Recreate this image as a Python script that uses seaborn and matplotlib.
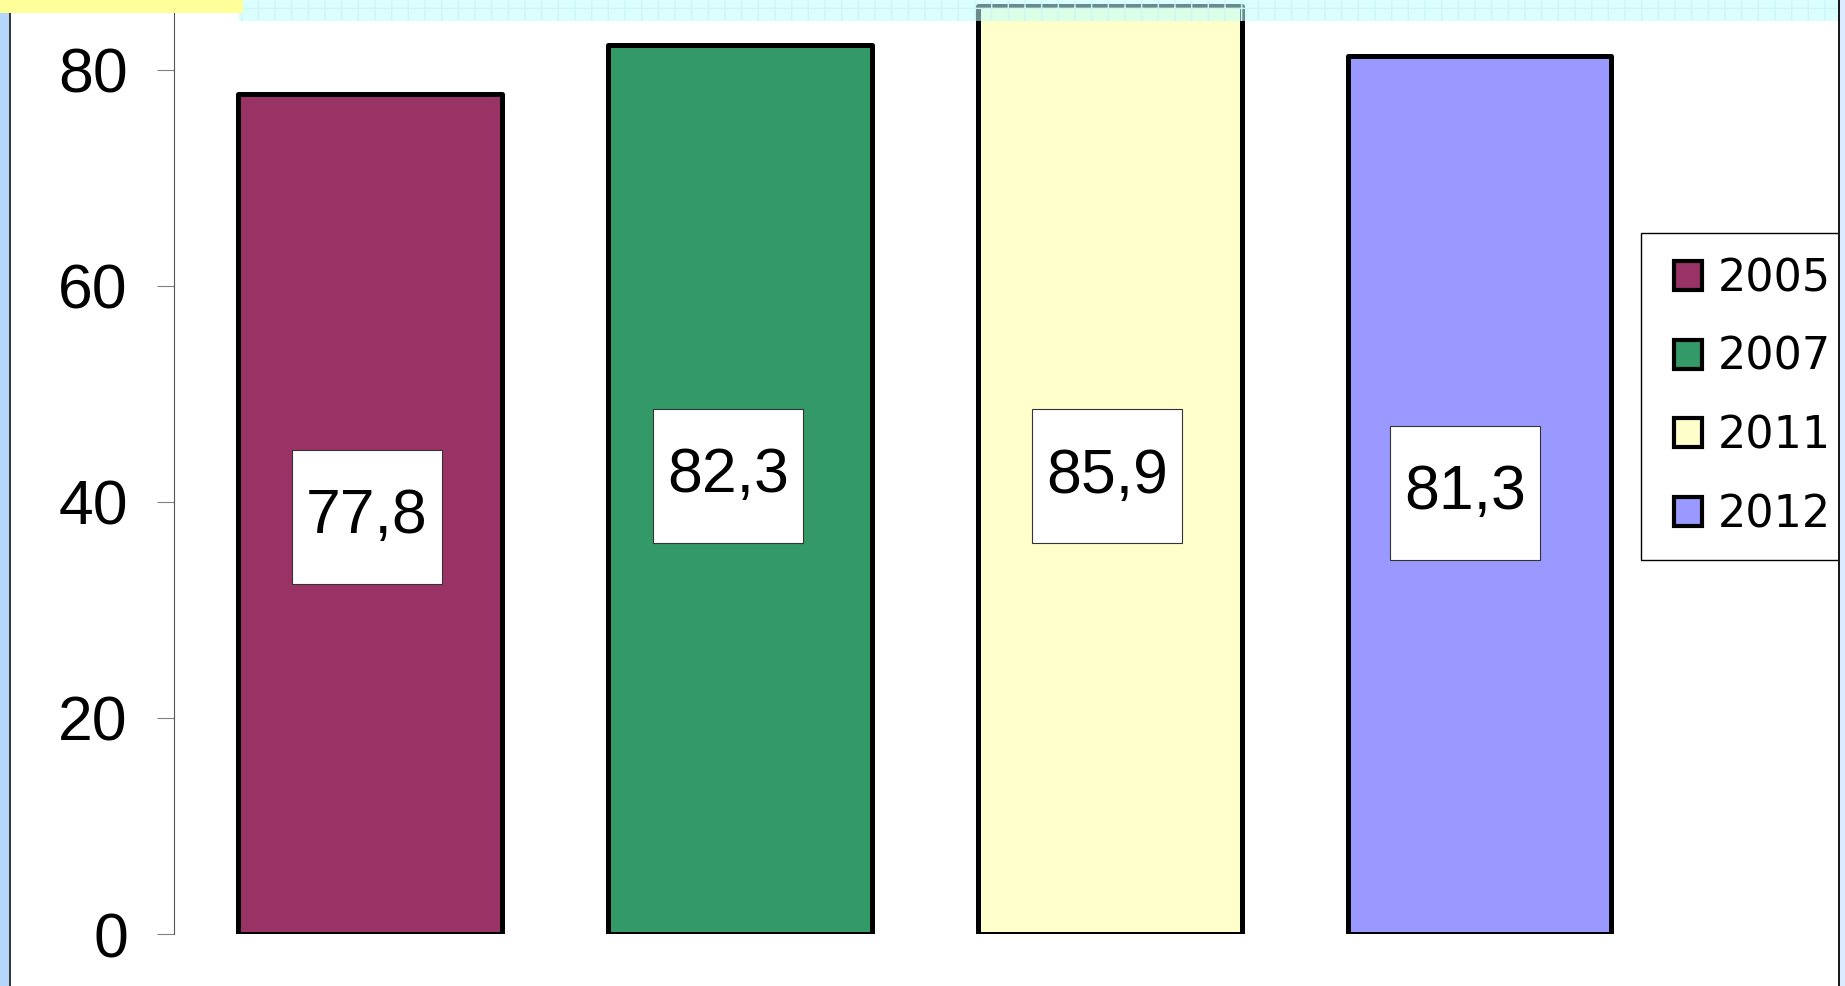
import matplotlib
matplotlib.use("Agg")
import matplotlib.pyplot as plt
import seaborn as sns
import pandas as pd
from matplotlib.patches import Rectangle

# Data
years = ["2005", "2007", "2011", "2012"]
values = [77.8, 82.3, 85.9, 81.3]
value_labels = ["77,8", "82,3", "85,9", "81,3"]
colors = ["#993366", "#339966", "#FFFFCC", "#9999FF"]
yticks = [0, 20, 40, 60, 80]

# Small nudges of the value-label boxes away from the bar centres
label_dx = [-0.008, -0.031, -0.008, -0.038]
label_dy = [-0.25, 1.26, -0.55, 0.19]

sns.set_theme(style="white")
plt.rcParams["font.family"] = ["Liberation Sans", "DejaVu Sans"]
plt.rcParams["text.color"] = "black"

W, H = 1845, 986
fig = plt.figure(figsize=(W / 100, H / 100), dpi=100)
fig.patch.set_facecolor("white")
ax = fig.add_axes([174 / W, 52 / H, (1839 - 174) / W, 934 / H])

df = pd.DataFrame({"year": years, "value": values})
sns.barplot(data=df, x="year", y="value", hue="year", palette=colors,
            saturation=1, width=0.713, edgecolor="black", linewidth=3.6,
            legend=False, ax=ax, zorder=2)
for bar in ax.patches:
    bar.set_joinstyle("round")

ax.set_xlim(-0.530, 3.972)
ax.set_ylim(0, 86.48)
ax.set_xticks([])
ax.set_xlabel("")
ax.set_ylabel("")
ax.set_yticks(yticks)
ax.set_yticklabels([str(t) for t in yticks], fontsize=45)
ax.tick_params(axis="y", length=12.2, width=0.8, color="#808080", pad=21,
               left=True, labelcolor="black")
for side in ["top", "right", "bottom"]:
    ax.spines[side].set_visible(False)
ax.spines["left"].set_color("#555555")
ax.spines["left"].set_linewidth(0.8)
ax.patch.set_alpha(0)

# Value labels in white boxes at mid-height of each bar
box_w, box_h = 0.4056, 12.4
for i, (v, lab) in enumerate(zip(values, value_labels)):
    cx = i + label_dx[i]
    cy = v / 2 + label_dy[i]
    ax.add_patch(Rectangle((cx - box_w / 2, cy - box_h / 2), box_w, box_h,
                           facecolor="white", edgecolor="#333333", lw=0.8,
                           zorder=3))
    ax.text(cx, cy, lab, ha="center", va="center", fontsize=45,
            color="black", zorder=4)


def px_rect(x0, y0, x1, y1, **kw):
    """Rectangle in figure pixels measured from the top-left corner."""
    r = Rectangle((x0 / W, 1 - y1 / H), (x1 - x0) / W, (y1 - y0) / H,
                  transform=fig.transFigure, **kw)
    fig.patches.append(r)
    return r


# Legend: a white framed box with the entries placed inside it
px_rect(1641, 233, 1839, 560, facecolor="white", edgecolor="black", lw=1.0,
        zorder=4)
handles = [Rectangle((0, 0), 1, 1, facecolor=c, edgecolor="black", lw=3,
                     joinstyle="round") for c in colors]
leg = fig.legend(handles, years, loc="upper left",
                 bbox_to_anchor=(1650 / W, 1 - 233 / H),
                 prop={"family": "DejaVu Sans", "size": 32},
                 labelcolor="black", frameon=False,
                 handlelength=0.63, handleheight=0.63, handletextpad=0.34,
                 borderpad=0.55, labelspacing=0.8, borderaxespad=0)
leg.set_zorder(5)

# Window frame around the chart
px_rect(0, 0, 9, H, facecolor="#B4D6FA", lw=0, zorder=10)
px_rect(9, 0, 11, H, facecolor="#3A3A3A", lw=0, zorder=10)
px_rect(1838, 0, 1840, H, facecolor="#1A1A1A", lw=0, zorder=10)
px_rect(1840, 0, W, H, facecolor="#DCEBFF", lw=0, zorder=10)
# Strips along the top edge
px_rect(239, 0, 1838, 21, facecolor=(190 / 255, 1, 1, 0.55),
        edgecolor="#CDF5F5", hatch="+", lw=0, zorder=11)
px_rect(0, 0, 243, 13, facecolor="#FFFF99", lw=0, zorder=12)

fig.savefig("out.png", dpi=100)
